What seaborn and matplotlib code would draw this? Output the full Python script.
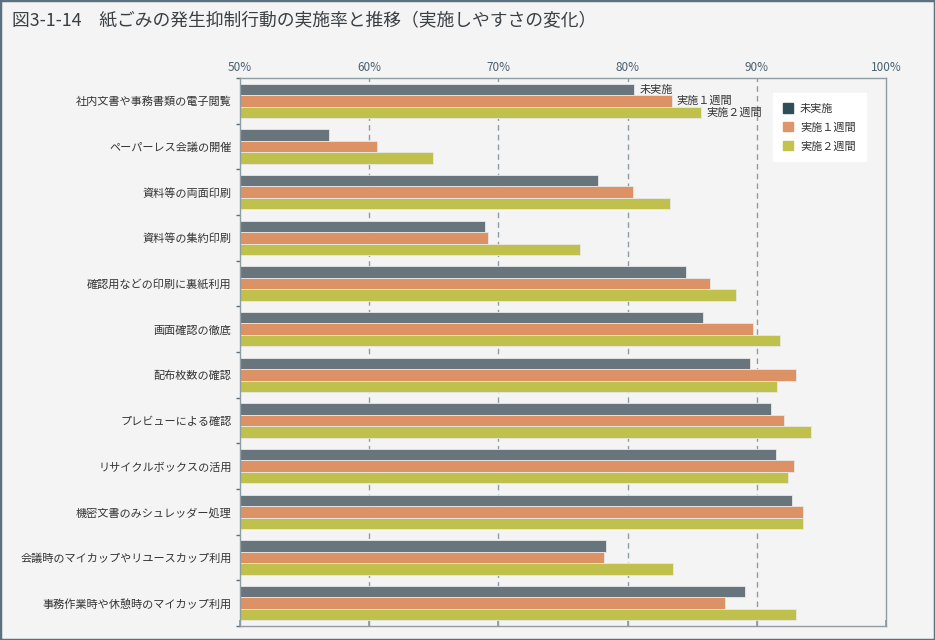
import matplotlib
matplotlib.use('Agg')
import matplotlib.pyplot as plt
import matplotlib.patches as mpatches
import seaborn as sns
import pandas as pd
import numpy as np

# 取り組み項目
categories = [
    '社内文書や事務書類の電子閲覧',
    'ペーパーレス会議の開催',
    '資料等の両面印刷',
    '資料等の集約印刷',
    '確認用などの印刷に裏紙利用',
    '画面確認の徹底',
    '配布枚数の確認',
    'プレビューによる確認',
    'リサイクルボックスの活用',
    '機密文書のみシュレッダー処理',
    '会議時のマイカップやリユースカップ利用',
    '事務作業時や休憩時のマイカップ利用',
]
series_names = ['未実施', '実施１週間', '実施２週間']

# 実施率（%）
not_done = [80.5, 56.9, 77.7, 69.0, 84.5, 85.8, 89.5, 91.1, 91.5, 92.7, 78.3, 89.1]
week1 = [83.4, 60.6, 80.4, 69.2, 86.4, 89.7, 93.0, 92.1, 92.9, 93.6, 78.2, 87.5]
week2 = [85.7, 64.9, 83.3, 76.3, 88.4, 91.8, 91.6, 94.2, 92.4, 93.6, 83.5, 93.0]

x_ticks = [50, 60, 70, 80, 90, 100]
x_tick_labels = ['50%', '60%', '70%', '80%', '90%', '100%']

bar_colors = ['#68757c', '#dc9264', '#bfc14c']
legend_colors = ['#2f4e58', '#df9469', '#c2c24c']
bg = '#f4f4f4'
axis_col = '#8e9ca4'
text_col = '#333333'

df = pd.DataFrame({
    'item': np.repeat(categories, 3),
    'series': series_names * len(categories),
    'rate': np.ravel(np.column_stack([not_done, week1, week2])),
})

sns.set_theme(style='white')
plt.rcParams['font.family'] = ['Noto Sans CJK JP', 'DejaVu Sans']

fig = plt.figure(figsize=(9.35, 6.4), dpi=100, facecolor=bg)
ax = fig.add_axes([240 / 935, 1 - 626 / 640, (886 - 240) / 935, (626 - 78) / 640])
ax.set_facecolor(bg)

sns.barplot(data=df, y='item', x='rate', hue='series', order=categories,
            hue_order=series_names, palette=bar_colors, orient='h',
            width=0.75, saturation=1, legend=False, ax=ax,
            edgecolor='#e8e8e8', linewidth=0.6)

ax.set_xlim(50, 100)
ax.set_xticks(x_ticks)
ax.set_xticklabels(x_tick_labels)
ax.set_xlabel('')
ax.set_ylabel('')

# 破線のグリッド（60〜90%）
for v in x_ticks[1:-1]:
    ax.axvline(v, color=axis_col, linestyle=(0, (4, 3)), linewidth=1, zorder=0)

ax.tick_params(axis='x', top=False, bottom=True, labeltop=True, labelbottom=False,
               direction='in', length=4, color=axis_col, labelsize=8.5,
               labelcolor='#4a6170', pad=3)
ax.tick_params(axis='y', which='major', length=0, labelsize=8, labelcolor=text_col, pad=6)
ax.set_yticks(np.arange(len(categories) + 1) - 0.5, minor=True)
ax.tick_params(axis='y', which='minor', left=True, length=3, color='#5b7180', width=1)
ax.set_ylim(len(categories) - 0.5, -0.5)

for s in ax.spines.values():
    s.set_color(axis_col)
    s.set_linewidth(1)
    s.set_visible(True)

# 先頭項目の系列名ラベル
first_vals = [not_done[0], week1[0], week2[0]]
offsets = [-0.25, 0.0, 0.25]
for name, val, off in zip(series_names, first_vals, offsets):
    ax.text(val + 0.4, off, name, fontsize=8, color=text_col, va='center', ha='left')

handles = [mpatches.Patch(color=c, label=n) for c, n in zip(legend_colors, series_names)]
leg = ax.legend(handles=handles, loc='upper right', bbox_to_anchor=(0.977, 0.982),
                frameon=True, fontsize=8, handlelength=0.9, handleheight=0.9,
                handletextpad=0.6, labelspacing=0.75, borderpad=0.9)
leg.get_frame().set_facecolor('white')
leg.get_frame().set_edgecolor('white')
leg.get_frame().set_alpha(1)
leg.get_frame().set_boxstyle('square', pad=0)
for t in leg.get_texts():
    t.set_color(text_col)

fig.text(12 / 935, 1 - 21 / 640, '図3-1-14　紙ごみの発生抑制行動の実施率と推移（実施しやすさの変化）',
         fontsize=12.8, color='#3a3f44', va='center', ha='left')

fig.patches.append(mpatches.Rectangle((0, 0), 1, 1, transform=fig.transFigure,
                                      fill=False, edgecolor='#5b7180', linewidth=2.5))

fig.savefig('out.png', dpi=100, facecolor=bg)
